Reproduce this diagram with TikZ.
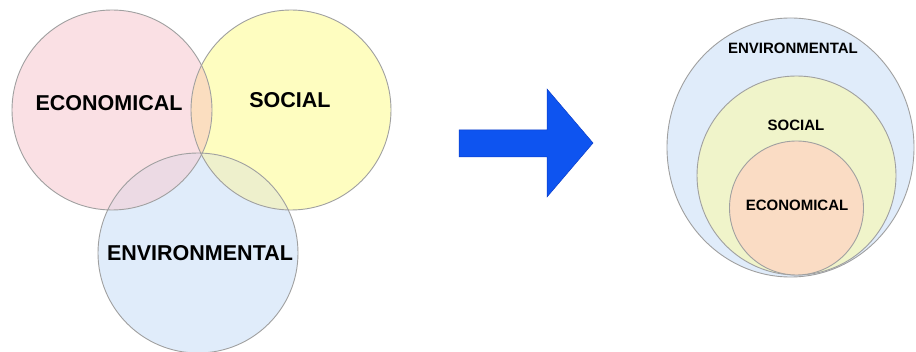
\documentclass[tikz,border=0pt]{standalone}
\usepackage{fontspec}
\usetikzlibrary{shapes.geometric}
\setmainfont{Liberation Sans}
\definecolor{pinkf}{RGB}{250,224,228}
\definecolor{yellowf}{RGB}{254,253,192}
\definecolor{peachf}{RGB}{251,222,192}
\definecolor{envf}{RGB}{224,236,250}
\definecolor{ecoenvf}{RGB}{236,218,228}
\definecolor{socenvf}{RGB}{238,240,204}
\definecolor{socf}{RGB}{240,244,202}
\definecolor{ecof}{RGB}{250,220,196}
\definecolor{edgec}{RGB}{160,160,160}
\definecolor{arrowf}{RGB}{14,84,240}
\definecolor{arrowd}{RGB}{10,60,200}
\tikzset{
  ring/.style={draw=edgec, line width=0.9pt},
  biglabel/.style={font=\fontsize{21.5}{22}\selectfont\bfseries, inner sep=0pt, anchor=center},
  smalllabel/.style={font=\fontsize{15}{16}\selectfont\bfseries, inner sep=0pt, anchor=center}
}
\begin{document}
\begin{tikzpicture}[x=1pt,y=-1pt]
\useasboundingbox[fill=white] (0,0) rectangle (916,352);
% left Venn
\begin{scope}
\clip (0,0) rectangle (916,352);
\fill[envf] (198,253) circle[radius=100];
\fill[pinkf] (112,110) circle[radius=100];
\fill[yellowf] (291,110) circle[radius=100];
\begin{scope}
  \clip (291,110) circle[radius=100];
  \fill[peachf] (112,110) circle[radius=100];
\end{scope}
\begin{scope}
  \clip (198,253) circle[radius=100];
  \fill[ecoenvf] (112,110) circle[radius=100];
  \fill[socenvf] (291,110) circle[radius=100];
  \clip (291,110) circle[radius=100];
  \fill[peachf!80!ecoenvf] (112,110) circle[radius=100];
\end{scope}
\node[ring, circle, minimum size=200pt, inner sep=0pt] (eco) at (112,110) {};
\node[ring, circle, minimum size=200pt, inner sep=0pt] (soc) at (291,110) {};
\node[ring, circle, minimum size=200pt, inner sep=0pt] (env) at (198,253) {};
\end{scope}
\node[biglabel] (ecoL) at (109,103) {ECONOMICAL};
\node[biglabel] (socL) at (290,100) {SOCIAL};
\node[biglabel] (envL) at (200,253) {ENVIRONMENTAL};
% arrow
\draw[fill=arrowf, draw=arrowd, line width=0.5pt, line join=miter]
  (459,130) -- (547,130) -- (547,89) -- (593,143) -- (547,197) -- (547,157) -- (459,157) -- cycle;
% right nested
\node[ring, ellipse, fill=envf, minimum width=247pt, minimum height=259pt, inner sep=0pt] (envR) at (790.5,147.5) {};
\node[ring, circle, fill=socf, minimum size=199pt, inner sep=0pt] (socR) at (796.5,175.5) {};
\node[ring, circle, fill=ecof, minimum size=134pt, inner sep=0pt] (ecoR) at (796.5,208) {};
\node[smalllabel] (envRL) at (793,48) {ENVIRONMENTAL};
\node[smalllabel] (socRL) at (796,125) {SOCIAL};
\node[smalllabel] (ecoRL) at (797,205) {ECONOMICAL};
\end{tikzpicture}
\end{document}
